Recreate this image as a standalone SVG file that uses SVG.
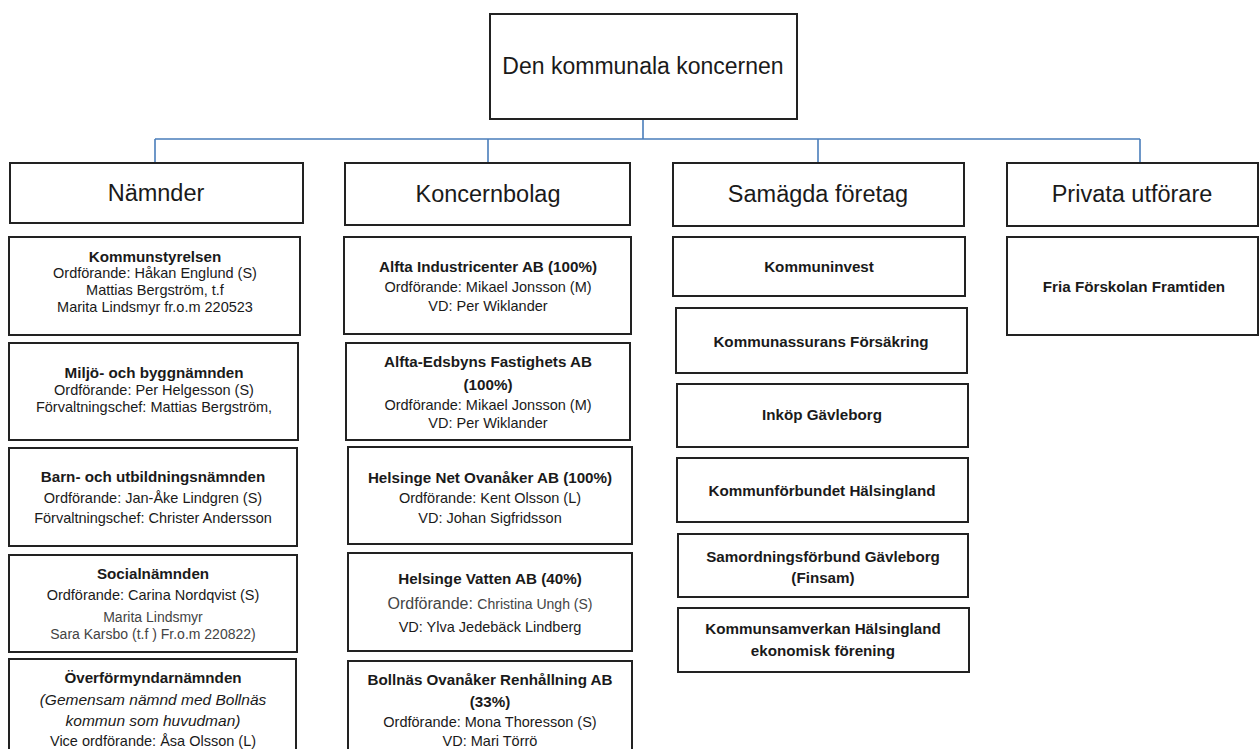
<svg xmlns="http://www.w3.org/2000/svg" width="1259" height="749" viewBox="0 0 1259 749">
<style>
.box{fill:#fff;stroke:#222;stroke-width:2}
.conn{stroke:#4a7ebb;stroke-width:1.6;fill:none}
text{font-family:"Liberation Sans",Arial,sans-serif;fill:#1a1a1a;text-anchor:middle}
.h{font-size:23.5px}
.top{font-size:23px}
.t{font-size:15.2px;font-weight:bold}
.s{font-size:14.5px}
.g{font-size:14px;fill:#444}
.gi{font-size:15.5px;font-style:italic}
</style>
<rect width="1259" height="749" fill="#fff"/>
<g id="connectors">
<path class="conn" d="M643,119 V139 M155,139 H1140 M155,139 V162 M488,139 V162 M818,139 V162 M1140,139 V162"/>
</g>
<g id="root"><rect class="box" x="490" y="14" width="307" height="105"/><text class="top" x="643" y="74">Den kommunala koncernen</text></g>
<g id="h-namnder"><rect class="box" x="10" y="163" width="293" height="60"/><text class="h" x="156" y="201">Nämnder</text></g>
<g id="h-koncernbolag"><rect class="box" x="345" y="163" width="285" height="62"/><text class="h" x="488" y="202">Koncernbolag</text></g>
<g id="h-samagda"><rect class="box" x="673" y="163" width="291" height="63"/><text class="h" x="818" y="202">Samägda företag</text></g>
<g id="h-privata"><rect class="box" x="1007" y="163" width="251" height="63"/><text class="h" x="1132" y="202">Privata utförare</text></g>

<g id="kommunstyrelsen"><rect class="box" x="9" y="237" width="291" height="98"/>
<text class="t" x="155" y="262">Kommunstyrelsen</text>
<text class="s" x="155" y="278">Ordförande: Håkan Englund (S)</text>
<text class="s" x="155" y="295">Mattias Bergström, t.f</text>
<text class="s" x="155" y="312">Marita Lindsmyr fr.o.m 220523</text></g>
<g id="miljo"><rect class="box" x="9" y="343" width="289" height="97"/>
<text class="t" x="154" y="378">Miljö- och byggnämnden</text>
<text class="s" x="154" y="395">Ordförande: Per Helgesson (S)</text>
<text class="s" x="154" y="412">Förvaltningschef: Mattias Bergström,</text></g>
<g id="barn"><rect class="box" x="9" y="448" width="288" height="98"/>
<text class="t" x="153" y="482">Barn- och utbildningsnämnden</text>
<text class="s" x="153" y="503">Ordförande: Jan-Åke Lindgren (S)</text>
<text class="s" x="153" y="523">Förvaltningschef: Christer Andersson</text></g>
<g id="social"><rect class="box" x="9" y="555" width="288" height="97"/>
<text class="t" x="153" y="579">Socialnämnden</text>
<text class="s" x="153" y="600">Ordförande: Carina Nordqvist (S)</text>
<text class="g" x="153" y="622">Marita Lindsmyr</text>
<text class="g" x="153" y="639">Sara Karsbo (t.f ) Fr.o.m 220822)</text></g>
<g id="overformyndar"><rect class="box" x="9" y="659" width="287" height="100"/>
<text class="t" x="153" y="683">Överförmyndarnämnden</text>
<text class="gi" x="153" y="705">(Gemensam nämnd med Bollnäs</text>
<text class="gi" x="153" y="726">kommun som huvudman)</text>
<text class="s" x="153" y="746">Vice ordförande: Åsa Olsson (L)</text></g>

<g id="alfta-ind"><rect class="box" x="344" y="237" width="287" height="97"/>
<text class="t" x="488" y="272">Alfta Industricenter AB (100%)</text>
<text class="s" x="488" y="292">Ordförande: Mikael Jonsson (M)</text>
<text class="s" x="488" y="311">VD: Per Wiklander</text></g>
<g id="alfta-eds"><rect class="box" x="346" y="343" width="284" height="97"/>
<text class="t" x="488" y="367">Alfta-Edsbyns Fastighets AB</text>
<text class="t" x="488" y="390">(100%)</text>
<text class="s" x="488" y="410">Ordförande: Mikael Jonsson (M)</text>
<text class="s" x="488" y="428">VD: Per Wiklander</text></g>
<g id="helsinge-net"><rect class="box" x="348" y="447" width="284" height="97"/>
<text class="t" x="490" y="483">Helsinge Net Ovanåker AB (100%)</text>
<text class="s" x="490" y="503">Ordförande: Kent Olsson (L)</text>
<text class="s" x="490" y="523">VD: Johan Sigfridsson</text></g>
<g id="helsinge-vatten"><rect class="box" x="348" y="553" width="284" height="98"/>
<text class="t" x="490" y="584">Helsinge Vatten AB (40%)</text>
<text x="490" y="609" style="fill:#444"><tspan style="font-size:16px">Ordförande: </tspan><tspan style="font-size:14px">Christina Ungh (S)</tspan></text>
<text class="s" x="490" y="632">VD: Ylva Jedebäck Lindberg</text></g>
<g id="bollnas"><rect class="box" x="348" y="661" width="284" height="100"/>
<text class="t" x="490" y="685">Bollnäs Ovanåker Renhållning AB</text>
<text class="t" x="490" y="707">(33%)</text>
<text class="s" x="490" y="727">Ordförande: Mona Thoresson (S)</text>
<text class="s" x="490" y="746">VD: Mari Törrö</text></g>

<g id="kommuninvest"><rect class="box" x="673" y="237" width="292" height="59"/><text class="t" x="819" y="272">Kommuninvest</text></g>
<g id="kommunassurans"><rect class="box" x="676" y="308" width="291" height="65"/><text class="t" x="821" y="347">Kommunassurans Försäkring</text></g>
<g id="inkop"><rect class="box" x="677" y="384" width="291" height="63"/><text class="t" x="822" y="420">Inköp Gävleborg</text></g>
<g id="kommunforbundet"><rect class="box" x="677" y="458" width="291" height="64"/><text class="t" x="822" y="496">Kommunförbundet Hälsingland</text></g>
<g id="samordning"><rect class="box" x="678" y="534" width="290" height="63"/><text class="t" x="823" y="562">Samordningsförbund Gävleborg</text><text class="t" x="823" y="583">(Finsam)</text></g>
<g id="kommunsamverkan"><rect class="box" x="678" y="608" width="291" height="64"/><text class="t" x="823" y="634">Kommunsamverkan Hälsingland</text><text class="t" x="823" y="656">ekonomisk förening</text></g>

<g id="fria"><rect class="box" x="1007" y="237" width="251" height="98"/><text class="t" x="1134" y="292">Fria Förskolan Framtiden</text></g>
</svg>
